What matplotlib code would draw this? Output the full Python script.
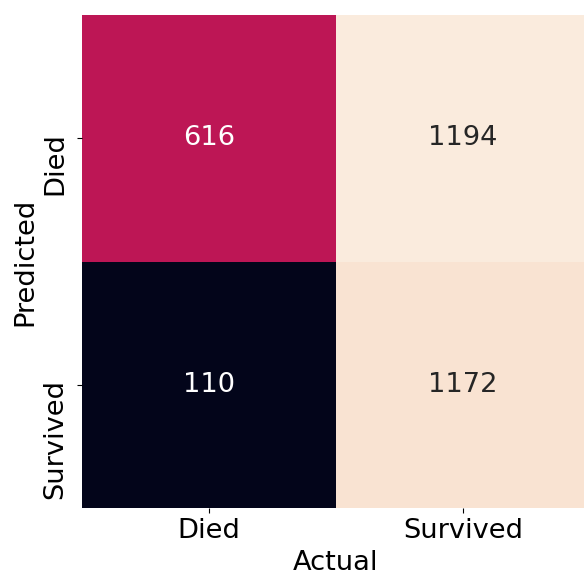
import matplotlib
matplotlib.use("Agg")
import matplotlib.pyplot as plt
import seaborn as sns
import numpy as np

row_labels = ["Died", "Survived"]
col_labels = ["Died", "Survived"]
died_row = [616, 1194]
survived_row = [110, 1172]

data = np.array([died_row, survived_row])

plt.rcParams['font.family'] = ['DejaVu Sans']
fig = plt.figure(figsize=(5.84, 5.76), dpi=100)
ax = fig.add_axes([82/584, 1 - 508/576, 508/584, 493/576])
fs = 19.6
sns.heatmap(data, annot=True, fmt="d", cbar=False, cmap="rocket",
            xticklabels=col_labels, yticklabels=row_labels, ax=ax,
            annot_kws={"fontsize": fs})
ax.set_xlabel("Actual", fontsize=fs, labelpad=4.5)
ax.tick_params(labelsize=fs)

# y tick labels: keep tick marks, draw labels hanging down from each tick
yticks = ax.get_yticks()
ax.set_yticklabels([""] * len(yticks))
for y, lab in zip(yticks, row_labels):
    ax.annotate(lab, xy=(0, y), xycoords=("axes fraction", "data"),
                xytext=(-10, 4.3), textcoords="offset points",
                rotation=90, rotation_mode="anchor",
                ha="right", va="bottom", fontsize=fs)
ax.set_ylabel("Predicted", fontsize=fs)
ax.yaxis.set_label_coords(-0.085, 0.5)
fig.savefig("out.png", dpi=100)
